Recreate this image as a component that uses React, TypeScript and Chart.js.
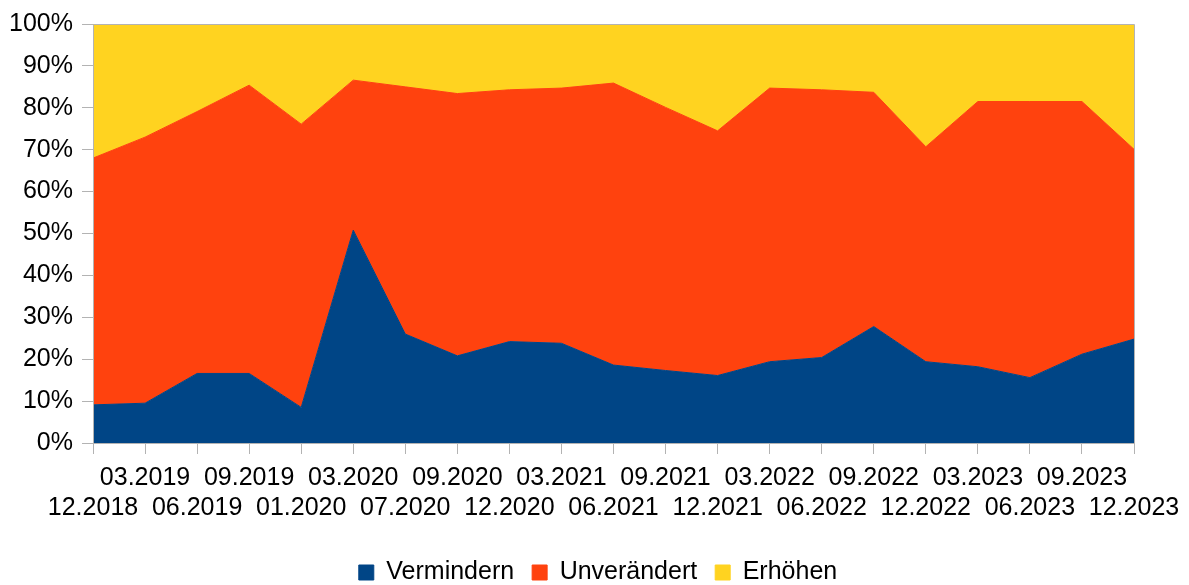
import React, { useEffect, useRef } from "react";
import { Chart, registerables } from "chart.js";

Chart.register(...registerables);

const categories = [
  "12.2018", "03.2019", "06.2019", "09.2019", "01.2020", "03.2020", "07.2020",
  "09.2020", "12.2020", "03.2021", "06.2021", "09.2021", "12.2021", "03.2022",
  "06.2022", "09.2022", "12.2022", "03.2023", "06.2023", "09.2023", "12.2023",
];

const vermindern = [9.1, 9.5, 16.6, 16.6, 8.5, 50.8, 26.0, 20.8, 24.2, 23.8, 18.6, 17.3, 16.1, 19.4, 20.4, 27.8, 19.4, 18.2, 15.6, 21.2, 24.8];
const unveraendert = [58.9, 63.5, 62.5, 68.8, 67.6, 35.8, 59.0, 62.6, 60.1, 60.9, 67.3, 62.8, 58.4, 65.3, 63.9, 55.9, 51.3, 63.3, 65.9, 60.3, 45.3];
const erhoehen = [32.0, 27.0, 20.9, 14.6, 23.9, 13.4, 15.0, 16.6, 15.7, 15.3, 14.1, 19.9, 25.5, 15.3, 15.7, 16.3, 29.3, 18.5, 18.5, 18.5, 29.9];

const seriesNames = ["Vermindern", "Unverändert", "Erhöhen"];
const seriesColors = ["#004586", "#ff420e", "#ffd320"];

const FONT = "'Liberation Sans', Arial, sans-serif";
const AXIS_COLOR = "#b3b3b3";

const framePlugin = {
  id: "frame",
  afterLayout(chart: any) {
    // centre the legend under the same span the reference uses
    if (chart.legend) {
      chart.legend.left = 62;
    }
  },
  afterDatasetsDraw(chart: any) {
    const { ctx, chartArea } = chart;
    const l = Math.round(chartArea.left) + 0.5;
    const r = Math.round(chartArea.right) + 0.5;
    const t = Math.round(chartArea.top) + 0.5;
    const b = Math.round(chartArea.bottom) + 0.5;
    ctx.save();
    ctx.strokeStyle = AXIS_COLOR;
    ctx.lineWidth = 1;
    ctx.beginPath();
    ctx.moveTo(l, t);
    ctx.lineTo(r, t);
    ctx.lineTo(r, b);
    ctx.lineTo(l, b);
    ctx.closePath();
    ctx.stroke();
    ctx.restore();
  },
};

export default function App() {
  const canvasRef = useRef<HTMLCanvasElement | null>(null);

  useEffect(() => {
    document.body.style.margin = "0";
    document.body.style.overflow = "hidden";
    document.documentElement.style.overflow = "hidden";
    const canvas = canvasRef.current;
    if (!canvas) return;
    const values = [vermindern, unveraendert, erhoehen];
    const chart = new Chart(canvas, {
      type: "line",
      data: {
        labels: categories,
        datasets: values.map((v, i) => ({
          label: seriesNames[i],
          data: v,
          backgroundColor: seriesColors[i],
          borderColor: seriesColors[i],
          borderWidth: 1,
          pointRadius: 0,
          pointHoverRadius: 0,
          tension: 0,
          fill: i === 0 ? "origin" : "-1",
        })),
      },
      options: {
        responsive: false,
        animation: false,
        devicePixelRatio: 1,
        layout: { padding: { top: 24, right: 55, left: 0, bottom: 0 } },
        plugins: {
          tooltip: { enabled: false },
          legend: {
            position: "bottom",
            labels: {
              font: { family: FONT, size: 25 },
              color: "#000000",
              boxWidth: 15,
              boxHeight: 15,
              padding: 18,
            },
          },
        },
        scales: {
          x: {
            type: "category",
            offset: false,
            grid: {
              display: true,
              drawOnChartArea: false,
              drawTicks: true,
              tickLength: 11,
              color: AXIS_COLOR,
            },
            border: { display: true, color: AXIS_COLOR },
            ticks: {
              autoSkip: false,
              maxRotation: 0,
              minRotation: 0,
              padding: 9,
              color: "#000000",
              font: { family: FONT, size: 25, lineHeight: 1.2 },
              callback: function (this: any, value: any, index: number) {
                const l = this.getLabelForValue(value);
                return index % 2 === 1 ? [l, ""] : ["", l];
              },
            },
            afterFit: (scale: any) => {
              scale.height = 99;
            },
          },
          y: {
            stacked: true,
            min: 0,
            max: 100,
            grid: {
              display: true,
              drawOnChartArea: false,
              drawTicks: true,
              tickLength: 11,
              color: AXIS_COLOR,
            },
            border: { display: true, color: AXIS_COLOR },
            ticks: {
              stepSize: 10,
              padding: 9,
              color: "#000000",
              font: { family: FONT, size: 25 },
              callback: (v: any) => `${v}%`,
            },
            afterFit: (scale: any) => {
              scale.width = 93;
            },
          },
        },
      },
      plugins: [framePlugin],
    });
    return () => chart.destroy();
  }, []);

  return (
    <div style={{ width: 1189, height: 585, overflow: "hidden" }}>
      <canvas ref={canvasRef} width={1189} height={595} style={{ display: "block" }} />
    </div>
  );
}
